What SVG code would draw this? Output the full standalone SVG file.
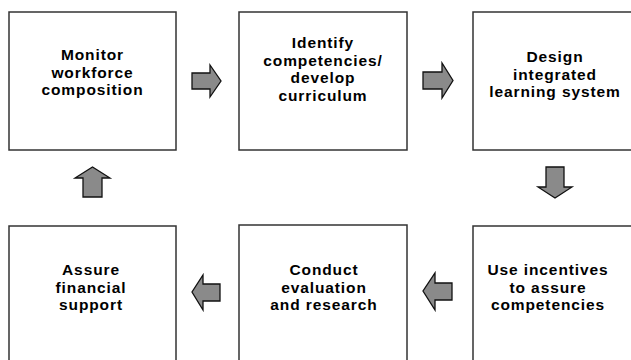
<svg xmlns="http://www.w3.org/2000/svg" width="631" height="360" viewBox="0 0 631 360">
<style>
.box{fill:#fff;stroke:#333;stroke-width:1.5}
.t{font-family:"Liberation Sans",Arial,sans-serif;font-weight:bold;font-size:15.5px;fill:#000;text-anchor:middle;letter-spacing:0.9px}
.arr{fill:#8a8a8a;stroke:#111;stroke-width:1.3;stroke-linejoin:miter}
</style>
<rect width="631" height="360" fill="#fff"/>
<g id="n1"><rect class="box" x="9" y="12" width="167" height="138"/>
<text class="t" x="92.5" y="60">Monitor</text><text class="t" x="92.5" y="77.5">workforce</text><text class="t" x="92.5" y="95">composition</text></g>
<g id="n2"><rect class="box" x="239" y="12" width="168" height="138"/>
<text class="t" x="323" y="48">Identify</text><text class="t" x="323" y="65.5">competencies/</text><text class="t" x="323" y="83">develop</text><text class="t" x="323" y="100.5">curriculum</text></g>
<g id="n3"><rect class="box" x="473" y="12" width="170" height="138"/>
<text class="t" x="555" y="62">Design</text><text class="t" x="555" y="79.5">integrated</text><text class="t" x="555" y="97">learning system</text></g>
<g id="n4"><rect class="box" x="9" y="226" width="167" height="150"/>
<text class="t" x="91" y="275">Assure</text><text class="t" x="91" y="292.5">financial</text><text class="t" x="91" y="310">support</text></g>
<g id="n5"><rect class="box" x="239" y="225" width="168" height="150"/>
<text class="t" x="324" y="275">Conduct</text><text class="t" x="324" y="292.5">evaluation</text><text class="t" x="324" y="310">and research</text></g>
<g id="n6"><rect class="box" x="473" y="226" width="170" height="150"/>
<text class="t" x="548" y="275">Use incentives</text><text class="t" x="548" y="292.5">to assure</text><text class="t" x="548" y="310">competencies</text></g>
<g id="connectors">
<polygon class="arr" points="192,73 210,73 210,65 221,81 210,97 210,89 192,89"/>
<polygon class="arr" points="423,72 442,72 442,63 453,80.5 442,98 442,89 423,89"/>
<polygon class="arr" points="546,167 564,167 564,187 572,187 555,198 538,187 546,187"/>
<polygon class="arr" points="83,197 102,197 102,178 110,178 92.5,167 75,178 83,178"/>
<polygon class="arr" points="220,284 203,284 203,275 192,292 203,310 203,301 220,301"/>
<polygon class="arr" points="452,283 435,283 435,273 423,291 435,310 435,300 452,300"/>
</g>
</svg>
